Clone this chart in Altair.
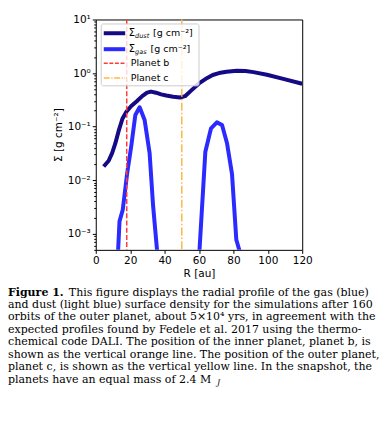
import altair as alt
import pandas as pd

# ---- data ----
dust_R = [4.6, 7.5, 9.5, 11.4, 13.4, 15.5, 17.8, 20.5, 24.0, 27.0, 29.8, 32.1, 35.0,
          38.0, 41.0, 45.0, 49.0, 51.9, 55.4, 60.0, 64.8, 68.0, 71.6, 76.0, 82.0,
          87.0, 91.7, 99.5, 109.0, 120.0]
dust_S = [0.018, 0.023, 0.032, 0.049, 0.085, 0.14, 0.19, 0.24, 0.30, 0.37, 0.43, 0.45, 0.43,
          0.40, 0.38, 0.36, 0.35, 0.37, 0.47, 0.64, 0.81, 0.92, 1.0, 1.06, 1.1,
          1.09, 1.04, 0.93, 0.78, 0.63]

gas1_R = [12.6, 13.8, 15.7, 18.2, 20.7, 23.0, 25.5, 28.4, 31.3, 33.3, 36.0]
gas1_S = [0.00027, 0.0017, 0.0028, 0.013, 0.045, 0.165, 0.23, 0.133, 0.032, 0.0034, 0.00036]
gas2_R = [59.9, 63.7, 67.0, 70.4, 73.4, 76.3, 79.2, 81.7, 84.8]
gas2_S = [0.0003, 0.034, 0.093, 0.12, 0.107, 0.049, 0.013, 0.00077, 0.00035]

planet_names = ["Planet b", "Planet c"]
planet_R = [18, 50]

x_ticks = [0, 20, 40, 60, 80, 100, 120]
y_major = [0.001, 0.01, 0.1, 1, 10]
y_major_labels = ["10⁻³", "10⁻²", "10⁻¹", "10⁰", "10¹"]
y_minor = [m * d for d in [0.0001, 0.001, 0.01, 0.1, 1] for m in range(2, 10)]
y_minor = [v for v in y_minor if 0.0005 <= v <= 10]

caption_lines = [
    "This figure displays the radial profile of the gas (blue)",
    "and dust (light blue) surface density for the simulations after 160",
    "orbits of the outer planet, about 5×10⁴ yrs, in agreement with the",
    "expected profiles found by Fedele et al. 2017 using the thermo-",
    "chemical code DALI. The position of the inner planet, planet b, is",
    "shown as the vertical orange line. The position of the outer planet,",
    "planet c, is shown as the vertical yellow line. In the snapshot, the",
    "planets have an equal mass of 2.4 M",
]

# ---- styling ----
DUST = "#140a85"
GAS = "#2b2bff"
RED = "#ff3b3b"
ORANGE = "#ffb845"
W, H = 207, 231
FONT = "DejaVu Sans"

dust_df = pd.DataFrame({"R": dust_R, "S": dust_S})
gas_df = pd.concat([
    pd.DataFrame({"R": gas1_R, "S": gas1_S, "g": "a"}),
    pd.DataFrame({"R": gas2_R, "S": gas2_S, "g": "b"}),
])
planet_df = pd.DataFrame({"name": planet_names, "R": planet_R})

tick_vals = sorted(y_major + y_minor)
label_expr = " : ".join(
    f"datum.value == {v} ? '{l}'" for v, l in zip(y_major, y_major_labels)
) + " : ''"
is_major = " || ".join(f"datum.value == {v}" for v in y_major)

xscale = alt.Scale(domain=[0, 120], nice=False)
yscale = alt.Scale(type="log", domain=[0.0005, 10], nice=False)

xaxis = alt.Axis(values=x_ticks, title="R [au]", grid=False, domain=False,
                 labelOverlap=False, labelFlush=False,
                 labelFont=FONT, labelFontSize=10.5, titleFont=FONT, titleFontSize=10.5,
                 titleFontWeight="normal", tickColor="black", labelColor="black",
                 titleColor="black", tickSize=3.5, labelPadding=2, titlePadding=3)
yaxis = alt.Axis(values=tick_vals, labelExpr=label_expr, title="Σ [g cm⁻²]", grid=False,
                 domain=False, labelOverlap=False, labelFlush=False,
                 labelFont=FONT, labelFontSize=10.5, titleFont=FONT,
                 titleFontSize=10.5, titleFontWeight="normal", tickColor="black",
                 labelColor="black", titleColor="black",
                 tickSize={"condition": {"test": is_major, "value": 3.5}, "value": 2},
                 labelPadding=2, titlePadding=4)

X = alt.X("R:Q", scale=xscale, axis=xaxis)
Y = alt.Y("S:Q", scale=yscale, axis=yaxis)

dust = alt.Chart(dust_df).mark_line(color=DUST, strokeWidth=4, clip=True,
                                    strokeCap="butt", strokeJoin="round").encode(x=X, y=Y)
gas = alt.Chart(gas_df).mark_line(color=GAS, strokeWidth=4, clip=True,
                                  strokeJoin="round").encode(x=X, y=Y, detail="g:N")
pb = alt.Chart(planet_df[planet_df.name == "Planet b"]).mark_rule(
    color=RED, strokeWidth=1.5, strokeDash=[5, 2.2]).encode(x=X)
pc = alt.Chart(planet_df[planet_df.name == "Planet c"]).mark_rule(
    color=ORANGE, strokeWidth=1.5, strokeDash=[8, 2.2, 1.5, 2.2]).encode(x=X)

one = alt.Data(values=[{"a": 1}])

# legend (manual, matplotlib-style)
leg_box = alt.Chart(one).mark_rect(fill="white", fillOpacity=0.8, stroke="#cccccc",
                                   strokeWidth=1, cornerRadius=2).encode(
    x=alt.value(5.5), x2=alt.value(103.5), y=alt.value(4.5), y2=alt.value(66.5))

def leg_line(y, color, width, dash=None):
    kw = dict(color=color, strokeWidth=width)
    if dash:
        kw["strokeDash"] = dash
    return alt.Chart(one).mark_rule(**kw).encode(
        x=alt.value(8), x2=alt.value(29.5), y=alt.value(y))

def txt(s, x, y, size=10, font=FONT, style="normal", weight="normal", baseline="middle"):
    return alt.Chart(one).mark_text(text=s, align="left", baseline=baseline, font=font,
                                    fontSize=size, fontStyle=style, fontWeight=weight,
                                    color="black").encode(x=alt.value(x), y=alt.value(y))

rows = [13.8, 29.8, 43.8, 58.8]
legend = [
    leg_box,
    leg_line(rows[0], DUST, 4),
    leg_line(rows[1], GAS, 4),
    leg_line(rows[2], RED, 1.5, [4, 1.6]),
    leg_line(rows[3], ORANGE, 1.5, [6, 1.6, 1.2, 1.6]),
    txt("Σ", 33, rows[0]), txt("dust", 39.4, rows[0] + 3, size=6.5, style="italic"),
    txt("[g cm⁻²]", 57.5, rows[0], size=9.5),
    txt("Σ", 33, rows[1]), txt("gas", 39.4, rows[1] + 3, size=6.5, style="italic"),
    txt("[g cm⁻²]", 55, rows[1], size=9.5),
    txt("Planet b", 35, rows[2], size=9.5),
    txt("Planet c", 35, rows[3], size=9.5),
]

# caption below the figure
SERIF = "DejaVu Serif"
cap_x = -88
cap_y0 = 273.8
cap_dy = 12.46
caption = [txt("Figure 1.", cap_x, cap_y0, size=11, font=SERIF, weight="bold")]
for i, line in enumerate(caption_lines):
    x = cap_x + (61 if i == 0 else 0)
    caption.append(txt(line, x, cap_y0 + i * cap_dy, size=11, font=SERIF))
caption.append(txt("J", cap_x + 209.5, cap_y0 + 7 * cap_dy + 3, size=8, font=SERIF, style="italic"))

chart = alt.layer(dust, gas, pb, pc, *legend, *caption).properties(
    width=W, height=H,
    padding={"left": 0, "top": 6, "right": 0, "bottom": 0},
).configure_view(stroke="black", strokeWidth=1)

chart.save("out.html", embed_options={"renderer": "svg", "actions": False})
